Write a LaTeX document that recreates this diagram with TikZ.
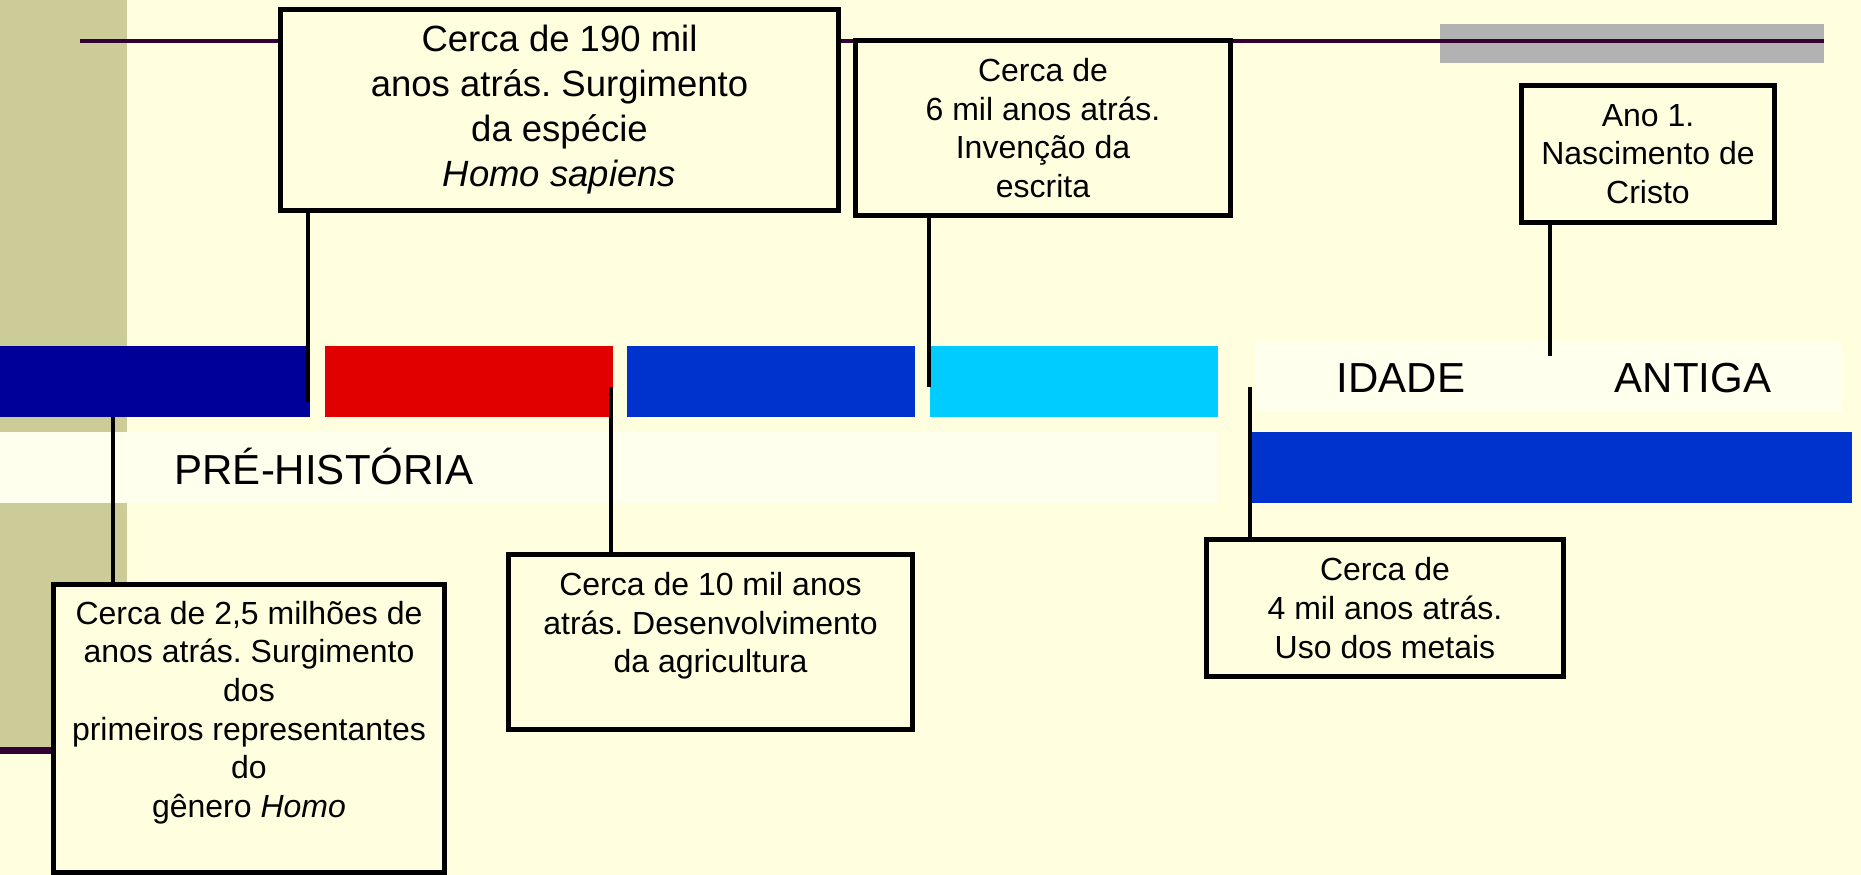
\documentclass[tikz,border=0pt]{standalone}
\usepackage{fontspec}
\setmainfont{Liberation Sans}
\frenchspacing
\definecolor{bgyellow}{HTML}{FFFFE0}
\definecolor{bandcream}{HTML}{FFFFEE}
\definecolor{olive}{HTML}{CCCC99}
\definecolor{darkpurple}{HTML}{330033}
\definecolor{navybar}{HTML}{000099}
\definecolor{redbar}{HTML}{E00000}
\definecolor{bluebar}{HTML}{0033CC}
\definecolor{cyanbar}{HTML}{00CCFF}
\definecolor{graybar}{HTML}{B2B2B2}
\tikzset{
  infobox/.style={draw=black, line width=5pt, fill=bgyellow, inner sep=0pt,
    align=center, font=\fontsize{32}{38.6}\selectfont},
  bigbox/.style={infobox, font=\fontsize{36.5}{45}\selectfont},
  connector/.style={draw=black, line width=4pt},
  eralabel/.style={inner sep=0pt, anchor=base, font=\fontsize{42}{46}\selectfont}
}
\begin{document}
\begin{tikzpicture}[x=1pt,y=-1pt]
\useasboundingbox (0,0) rectangle (1861,875);
% background
\fill[bgyellow] (0,0) rectangle (1861,875);
% olive strip
\fill[olive] (0,0) rectangle (127,750);
% cream bands
\fill[bandcream] (0,432) rectangle (1217,503);
\fill[bandcream] (1255,342) rectangle (1842,412);
% purple line lower-left
\fill[darkpurple] (0,747) rectangle (60,754);
% gray rect and top line
\fill[graybar] (1440,24) rectangle (1824,63);
\draw[darkpurple, line width=4pt] (80,41) -- (1824,41);
% bars
\fill[navybar] (0,346) rectangle (310,417);
\fill[redbar] (325,346) rectangle (613,417);
\fill[bluebar] (627,346) rectangle (915,417);
\fill[cyanbar] (930,346) rectangle (1218,417);
\fill[bluebar] (1248,432) rectangle (1852,503);
% era labels
\node[eralabel] (pre) at (324,484) {PRÉ-HISTÓRIA};
\node[eralabel] (idade) at (1401,392.5) {IDADE};
\node[eralabel] (antiga) at (1693,392.5) {ANTIGA};
% boxes
\node[bigbox, minimum width=558pt, minimum height=201pt] (b190) at (559.5,110)
  {Cerca de 190 mil\\anos atrás. Surgimento\\da espécie\\\textit{Homo sapiens}};
\node[infobox, minimum width=375pt, minimum height=175pt] (b6) at (1043,128)
  {Cerca de\\6 mil anos atrás.\\Invenção da\\escrita};
\node[infobox, minimum width=253pt, minimum height=137pt] (b1) at (1648,154)
  {Ano 1.\\Nascimento de\\Cristo};
\node[infobox, minimum width=391pt, minimum height=288pt] (b25) at (249,728.5)
  {Cerca de 2,5 milhões de\\anos atrás. Surgimento\\dos\\primeiros representantes\\do\\gênero \textit{Homo}\\\mbox{}};
\node[infobox, minimum width=404pt, minimum height=175pt] (b10) at (710.5,642)
  {Cerca de 10 mil anos\\atrás. Desenvolvimento\\da agricultura\\\mbox{}};
\node[infobox, minimum width=357pt, minimum height=137pt] (b4) at (1385,608)
  {Cerca de\\4 mil anos atrás.\\Uso dos metais};
% connector ends
\coordinate (e190) at (308,402);
\coordinate (e6) at (929,387);
\coordinate (e1) at (1549.5,356);
\coordinate (e25) at (113,417);
\coordinate (e10) at (611,387);
\coordinate (e4) at (1250,387);
% connectors
\draw[connector] (b190.south -| e190) -- (e190);
\draw[connector] (b6.south -| e6) -- (e6);
\draw[connector] (b1.south -| e1) -- (e1);
\draw[connector] (e25) -- (b25.north -| e25);
\draw[connector] (e10) -- (b10.north -| e10);
\draw[connector] (e4) -- (b4.north -| e4);
\end{tikzpicture}
\end{document}
